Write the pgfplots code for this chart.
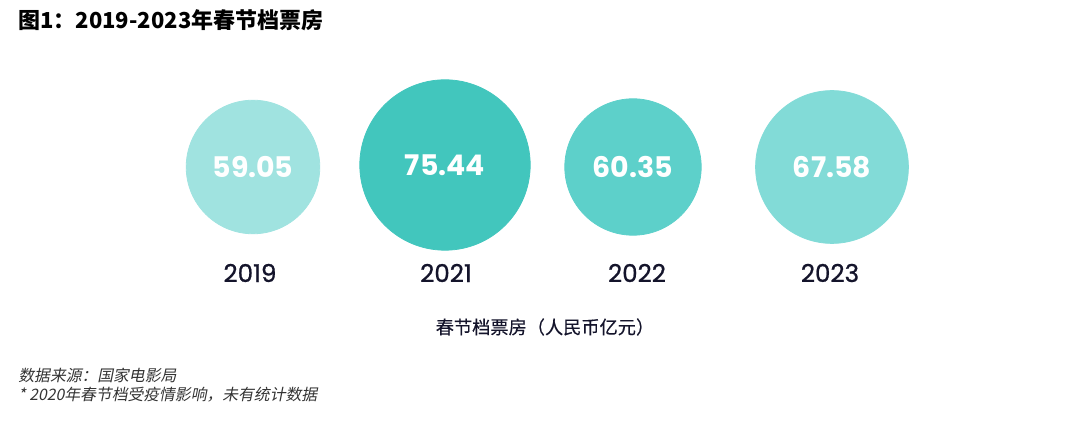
\documentclass[border=0pt]{standalone}
\usepackage{pgfplots}
\pgfplotsset{compat=1.18}
\usepackage{fontspec}
\setmainfont{Poppins}
\newfontfamily\cjk{Noto Sans CJK SC}
\newfontfamily\cjkl[FakeBold=0.4]{Noto Sans CJK SC}
\newfontfamily\cjkit[FakeSlant=0.2]{Noto Sans CJK SC}
\newfontfamily\pop{Poppins}
\newfontfamily\popm[FakeBold=0.8]{Poppins}
\definecolor{c19}{HTML}{A0E3E0}
\definecolor{c21}{HTML}{42C6BD}
\definecolor{c22}{HTML}{5DD0CA}
\definecolor{c23}{HTML}{82DBD7}
\definecolor{txt}{HTML}{14142B}
\begin{document}
\begin{tikzpicture}
\begin{axis}[x=0.5pt,y=0.5pt,xmin=0,xmax=1068,ymin=0,ymax=428,hide axis,clip=false,
  point meta=explicit symbolic,
  nodes near coords,
  nodes near coords align={center},
  every node near coord/.append style={anchor=center,text=white,font=\pop\bfseries\fontsize{14.2}{17}\selectfont}]
\path (axis cs:0,0) rectangle (axis cs:1068,428);
\addplot[only marks,mark=*,mark size=33.4pt,color=c19] coordinates {(253,261) [59.05]};
\addplot[only marks,mark=*,mark size=42.6pt,color=c21] coordinates {(445,263) [75.44]};
\addplot[only marks,mark=*,mark size=34.1pt,color=c22] coordinates {(633,261) [60.35]};
\addplot[only marks,mark=*,mark size=38.2pt,color=c23] coordinates {(832,261) [67.58]};
\node[text=txt,font=\popm\fontsize{12.3}{14}\selectfont] at (axis cs:250,155) {2019};
\node[text=txt,font=\popm\fontsize{12.3}{14}\selectfont] at (axis cs:446,155) {2021};
\node[text=txt,font=\popm\fontsize{12.3}{14}\selectfont] at (axis cs:637,155) {2022};
\node[text=txt,font=\popm\fontsize{12.3}{14}\selectfont] at (axis cs:830,155) {2023};
\node[text=txt,font=\cjkl\fontsize{9.1}{10}\selectfont] at (axis cs:545,101) {春节档票房（人民币亿元）};
\node[anchor=west,inner sep=0pt,text=black,font=\cjk\bfseries\fontsize{11}{13}\selectfont] at (axis cs:18,408) {图1：2019-2023年春节档票房};
\node[anchor=west,inner sep=0pt,text=black!80,font=\cjkit\fontsize{7.9}{9}\selectfont] at (axis cs:18,53) {数据来源：国家电影局};
\node[anchor=west,inner sep=0pt,text=black!80,font=\cjkit\fontsize{7.9}{9}\selectfont] at (axis cs:18,33) {* 2020年春节档受疫情影响，未有统计数据};
\end{axis}
\end{tikzpicture}
\end{document}
